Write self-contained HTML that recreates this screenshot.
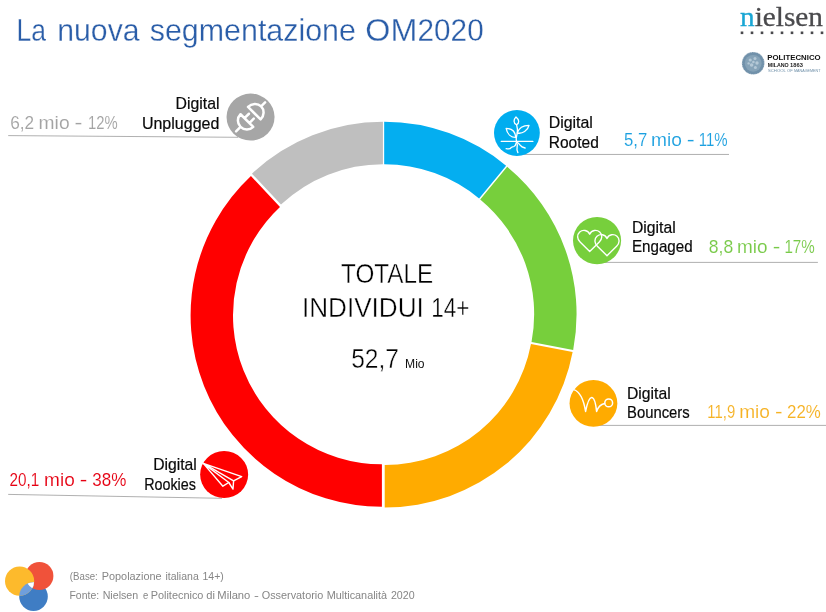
<!DOCTYPE html>
<html lang="it"><head><meta charset="utf-8"><title>La nuova segmentazione OM2020</title>
<style>
html,body{margin:0;padding:0;background:#fff;}
body{width:826px;height:612px;overflow:hidden;position:relative;font-family:"Liberation Sans",sans-serif;}
svg{position:absolute;left:0;top:0;display:block}
text{font-family:"Liberation Sans",sans-serif;white-space:pre}
.serif{font-family:"Liberation Serif",serif;}
.thin{stroke:#fff;stroke-width:.4px;paint-order:fill stroke}
.thin3{stroke:#fff;stroke-width:.3px;paint-order:fill stroke}
.thin2{stroke:#fff;stroke-width:.1px;paint-order:fill stroke}
.ln{stroke:#a2a2a2;stroke-width:.85;fill:none}
.ic{fill:none;stroke:#fff;stroke-linecap:round;stroke-linejoin:round}
</style></head><body>
<svg width="826" height="612" viewBox="0 0 826 612">
<rect width="826" height="612" fill="#fff"/>
<!-- title -->
<text y="40.8" font-size="32.2" fill="#2A5DA8" class="thin3"><tspan x="16.43" textLength="29.50" lengthAdjust="spacingAndGlyphs">La</tspan> <tspan x="57.31" textLength="82.19" lengthAdjust="spacingAndGlyphs">nuova</tspan> <tspan x="149.72" textLength="206.21" lengthAdjust="spacingAndGlyphs">segmentazione</tspan> <tspan x="365.29" textLength="51.99" lengthAdjust="spacingAndGlyphs">OM</tspan><tspan x="417.61" textLength="66.03" lengthAdjust="spacingAndGlyphs">2020</tspan></text>

<!-- nielsen logo -->
<text class="serif" x="740" y="26.4" font-size="28" fill="#4a4a4d" stroke="#4a4a4d" stroke-width=".3" textLength="83" lengthAdjust="spacingAndGlyphs"><tspan fill="#19a6d4" stroke="#19a6d4">n</tspan>ielsen</text>
<g fill="#4a4a4d">
<rect x="740.7" y="31.5" width="2.6" height="2.6"/><rect x="750.7" y="31.5" width="2.6" height="2.6"/><rect x="760.7" y="31.5" width="2.6" height="2.6"/><rect x="770.7" y="31.5" width="2.6" height="2.6"/><rect x="780.7" y="31.5" width="2.6" height="2.6"/><rect x="790.7" y="31.5" width="2.6" height="2.6"/><rect x="800.7" y="31.5" width="2.6" height="2.6"/><rect x="810.7" y="31.5" width="2.6" height="2.6"/><rect x="820.7" y="31.5" width="2.6" height="2.6"/>
</g>
<!-- politecnico logo -->
<circle cx="753.2" cy="63.3" r="11.3" fill="#7191aa"/>
<circle cx="753.2" cy="63.3" r="11.2" fill="none" stroke="#fff" stroke-width=".9" stroke-dasharray=".7 1.1" opacity=".75"/>
<circle cx="753.2" cy="63.3" r="8.4" fill="#86a3b8"/>
<g fill="#b4c8d6"><circle cx="750.2" cy="60" r="1.6"/><circle cx="755" cy="58.6" r="1.5"/><circle cx="757" cy="63" r="1.7"/><circle cx="751.6" cy="65" r="1.8"/><circle cx="755.4" cy="67.4" r="1.5"/><circle cx="748.6" cy="63.4" r="1.2"/><circle cx="753.4" cy="62" r="1.3"/></g>
<text y="59.8" font-size="7.8" font-weight="bold" fill="#111"><tspan x="767.31" textLength="53.30" lengthAdjust="spacingAndGlyphs">POLITECNICO</tspan></text>
<text y="66.5" font-size="5.0" font-weight="bold" fill="#222"><tspan x="767.77" textLength="20.98" lengthAdjust="spacingAndGlyphs">MILANO</tspan> <tspan x="790.04" textLength="12.80" lengthAdjust="spacingAndGlyphs">1863</tspan></text>
<text y="72.2" font-size="3.5" fill="#6e8fa8"><tspan x="767.97" textLength="17.74" lengthAdjust="spacingAndGlyphs">SCHOOL</tspan> <tspan x="787.01" textLength="5.73" lengthAdjust="spacingAndGlyphs">OF</tspan> <tspan x="794.01" textLength="26.45" lengthAdjust="spacingAndGlyphs">MANAGEMENT</tspan></text>

<!-- donut -->
<path d="M384.18 121.81A191.3 191.3 0 0 1 506.12 165.71L479.09 198.38A148.9 148.9 0 0 0 384.18 164.21Z" fill="#04AEF0"/>
<path d="M507.20 166.79A191.3 191.3 0 0 1 573.18 350.04L531.53 342.09A148.9 148.9 0 0 0 480.18 199.46Z" fill="#77CF3C"/>
<path d="M572.63 352.03A191.3 191.3 0 0 1 384.72 507.49L384.72 465.09A148.9 148.9 0 0 0 530.98 344.09Z" fill="#FFAB00"/>
<path d="M381.90 506.76A191.3 191.3 0 0 1 250.94 176.01L279.97 206.92A148.9 148.9 0 0 0 381.90 464.36Z" fill="#FF0000"/>
<path d="M251.95 173.67A191.3 191.3 0 0 1 382.91 121.83L382.91 164.23A148.9 148.9 0 0 0 280.98 204.58Z" fill="#BFBFBF"/>


<!-- centre text -->
<text y="282.6" font-size="27.2" fill="#000" class="thin"><tspan x="341.02" textLength="92.10" lengthAdjust="spacingAndGlyphs">TOTALE</tspan></text>
<text y="316.5" font-size="27.2" fill="#000" class="thin"><tspan x="301.96" textLength="121.90" lengthAdjust="spacingAndGlyphs">INDIVIDUI</tspan> <tspan x="431.29" textLength="38.14" lengthAdjust="spacingAndGlyphs">14+</tspan></text>
<text y="367.9" font-size="27.7" fill="#000" class="thin"><tspan x="351.13" textLength="47.76" lengthAdjust="spacingAndGlyphs">52,7</tspan></text>
<text y="367.8" font-size="11.9" fill="#111"><tspan x="405.05" textLength="19.54" lengthAdjust="spacingAndGlyphs">Mio</tspan></text>

<!-- Unplugged -->
<line class="ln" x1="8.2" y1="135.6" x2="238" y2="137.3"/>
<text y="128.9" font-size="18.5" fill="#a3a3a3" class="thin2"><tspan x="10.19" textLength="24.01" lengthAdjust="spacingAndGlyphs">6,2</tspan> <tspan x="38.60" textLength="30.98" lengthAdjust="spacingAndGlyphs">mio</tspan> <tspan x="74.46" textLength="7.90" lengthAdjust="spacingAndGlyphs">-</tspan> <tspan x="87.97" textLength="29.67" lengthAdjust="spacingAndGlyphs">12%</tspan></text>
<text y="109.1" font-size="16.2" fill="#0a0a0a" stroke="#0a0a0a" stroke-width=".2"><tspan x="175.56" textLength="43.98" lengthAdjust="spacingAndGlyphs">Digital</tspan></text>
<text y="128.5" font-size="16.2" fill="#0a0a0a" stroke="#0a0a0a" stroke-width=".2"><tspan x="141.90" textLength="77.50" lengthAdjust="spacingAndGlyphs">Unplugged</tspan></text>
<ellipse cx="250.55" cy="117.1" rx="24" ry="23.5" fill="#a6a6a6"/>
<g transform="translate(250.5 117) rotate(-45)" class="ic" stroke-width="2.5" stroke-linecap="butt">
<path d="M-20.4 0H-14.1M-5.1 -9A9 9 0 0 0 -5.1 9ZM-5.1 -3.4H1.2M-5.1 3.4H1.2"/>
<path d="M5.4 -8.9A9.6 8.9 0 0 1 5.4 8.9ZM15 0H20.6"/>
</g>

<!-- Rooted -->
<line class="ln" x1="520" y1="154.45" x2="729" y2="154.45"/>
<circle cx="516.9" cy="133" r="22.9" fill="#00ADEF"/>
<g transform="translate(516.9 133)" class="ic" stroke-width="1.3">
<path d="M-0.9 -16.1C-3.5 -13.4 -3.6 -10 -0.4 -8.2C2.7 -10 2.5 -13.4 -0.9 -16.1Z"/>
<path d="M-0.3 -8.2C0.6 -5 0.9 -2 0.4 0C-0.2 3 -1.4 5 -0.3 8.8"/>
<path d="M0.3 0C2 -5 7 -7.6 12.1 -7.6C11 -2.5 5.5 1.2 0.3 0Z"/>
<path d="M-1 4.4C-6 4.6 -9.8 1 -10.75 -4.6C-5.5 -4.6 -1.6 -1.4 -1 4.4Z"/>
<path d="M-15.7 8.4L16 8.4" stroke-width="1.2"/>
<path d="M-0.3 9C-1 11.5 -1.8 13 -3 13.5C-4.4 14 -5.2 13.6 -5.8 14.6C-6.4 15.8 -7.4 16.2 -10.75 15.6"/>
<path d="M-0.3 9C0.6 11.5 0.6 13 0.2 14.5S0 17.5 1 19.6"/>
<path d="M-0.3 8.8C1.2 10 2.4 11 3.2 12.2S5.4 14.4 8.2 15"/>
</g>
<text y="128.0" font-size="16.2" fill="#0a0a0a" stroke="#0a0a0a" stroke-width=".2"><tspan x="548.66" textLength="44.19" lengthAdjust="spacingAndGlyphs">Digital</tspan></text>
<text y="147.7" font-size="16.2" fill="#0a0a0a" stroke="#0a0a0a" stroke-width=".2"><tspan x="548.69" textLength="50.09" lengthAdjust="spacingAndGlyphs">Rooted</tspan></text>
<text y="145.9" font-size="18.5" fill="#1ba0e0" class="thin2"><tspan x="623.98" textLength="23.20" lengthAdjust="spacingAndGlyphs">5,7</tspan> <tspan x="651.00" textLength="30.87" lengthAdjust="spacingAndGlyphs">mio</tspan> <tspan x="686.86" textLength="7.90" lengthAdjust="spacingAndGlyphs">-</tspan> <tspan x="698.76" textLength="28.88" lengthAdjust="spacingAndGlyphs">11%</tspan></text>

<!-- Engaged -->
<line class="ln" x1="600" y1="262.4" x2="817.9" y2="262.4"/>
<ellipse cx="597.05" cy="240.55" rx="24.05" ry="23.65" fill="#77CF3C"/>
<g class="ic" stroke-width="1.4">
<path d="M0 -7.2C-2 -11.6 -7 -12 -10 -9.4C-13 -6.6 -12.6 -2.4 -9.6 0.6L0 10L9.6 0.6C12.6 -2.4 13 -6.6 10 -9.4C7 -12 2 -11.6 0 -7.2Z" transform="translate(589.7 241.4)"/>
<path d="M0 -7.2C-2 -11.6 -7 -12 -10 -9.4C-13 -6.6 -12.6 -2.4 -9.6 0.6L0 10L9.6 0.6C12.6 -2.4 13 -6.6 10 -9.4C7 -12 2 -11.6 0 -7.2Z" transform="translate(607 245.7)"/>
</g>
<text y="233.0" font-size="16.2" fill="#0a0a0a" stroke="#0a0a0a" stroke-width=".2"><tspan x="631.97" textLength="43.66" lengthAdjust="spacingAndGlyphs">Digital</tspan></text>
<text y="252.3" font-size="16.2" fill="#0a0a0a" stroke="#0a0a0a" stroke-width=".2"><tspan x="632.02" textLength="60.63" lengthAdjust="spacingAndGlyphs">Engaged</tspan></text>
<text y="252.6" font-size="18.5" fill="#78ca48" class="thin2"><tspan x="708.85" textLength="24.36" lengthAdjust="spacingAndGlyphs">8,8</tspan> <tspan x="737.01" textLength="30.55" lengthAdjust="spacingAndGlyphs">mio</tspan> <tspan x="772.69" textLength="7.52" lengthAdjust="spacingAndGlyphs">-</tspan> <tspan x="784.45" textLength="30.30" lengthAdjust="spacingAndGlyphs">17%</tspan></text>

<!-- Bouncers -->
<line class="ln" x1="596" y1="425.4" x2="826" y2="425.4"/>
<ellipse cx="593.45" cy="403.4" rx="23.9" ry="23.35" fill="#FFAB00"/>
<g class="ic" stroke-width="1.5" stroke="#fff1b8">
<path d="M573.7 389.6C580.4 391.6 583.8 400.6 585.6 411.4C587.2 403.4 589.4 397.6 591.6 397.5C594 397.4 595.8 404 596.6 411.4C598 407 601.2 404.2 604.6 403.4"/>
<circle cx="608.7" cy="402.9" r="3.9"/>
</g>
<text y="398.8" font-size="16.2" fill="#0a0a0a" stroke="#0a0a0a" stroke-width=".2"><tspan x="626.97" textLength="43.66" lengthAdjust="spacingAndGlyphs">Digital</tspan></text>
<text y="417.5" font-size="16.2" fill="#0a0a0a" stroke="#0a0a0a" stroke-width=".2"><tspan x="627.04" textLength="62.62" lengthAdjust="spacingAndGlyphs">Bouncers</tspan></text>
<text y="417.6" font-size="18.5" fill="#f6b223" class="thin2"><tspan x="707.37" textLength="27.83" lengthAdjust="spacingAndGlyphs">11,9</tspan> <tspan x="739.21" textLength="30.77" lengthAdjust="spacingAndGlyphs">mio</tspan> <tspan x="775.09" textLength="7.52" lengthAdjust="spacingAndGlyphs">-</tspan> <tspan x="787.01" textLength="33.79" lengthAdjust="spacingAndGlyphs">22%</tspan></text>

<!-- Rookies -->
<line class="ln" x1="8.2" y1="494.4" x2="222" y2="498.3"/>
<text y="485.6" font-size="18.5" fill="#e60012" class="thin2"><tspan x="9.48" textLength="29.74" lengthAdjust="spacingAndGlyphs">20,1</tspan> <tspan x="44.11" textLength="30.66" lengthAdjust="spacingAndGlyphs">mio</tspan> <tspan x="79.89" textLength="7.52" lengthAdjust="spacingAndGlyphs">-</tspan> <tspan x="92.37" textLength="34.04" lengthAdjust="spacingAndGlyphs">38%</tspan></text>
<text y="470.0" font-size="16.2" fill="#0a0a0a" stroke="#0a0a0a" stroke-width=".2"><tspan x="153.17" textLength="43.66" lengthAdjust="spacingAndGlyphs">Digital</tspan></text>
<text y="489.7" font-size="16.2" fill="#0a0a0a" stroke="#0a0a0a" stroke-width=".2"><tspan x="144.18" textLength="51.77" lengthAdjust="spacingAndGlyphs">Rookies</tspan></text>
<ellipse cx="224.15" cy="474.55" rx="24" ry="23.55" fill="#FF0000"/>
<g class="ic" stroke-width="1.4" stroke-linejoin="miter">
<path d="M203.3 463.4L241.7 476.6L233.6 480.9Z"/>
<path d="M203.3 463.4L222.9 486.2L228.8 482.5Z"/>
<path d="M228.8 482.5L233 489.1L233.6 480.9"/>
</g>

<!-- footer logo -->
<defs>
<clipPath id="cy"><circle cx="19.6" cy="581.1" r="14.6"/></clipPath>
<clipPath id="cr"><circle cx="39.4" cy="576" r="14"/></clipPath>
</defs>
<circle cx="33.5" cy="596.6" r="14.3" fill="#3f7dc4"/>
<circle cx="39.4" cy="576" r="14" fill="#f0523a"/>
<circle cx="19.6" cy="581.1" r="14.6" fill="#fdba2c"/>
<circle cx="33.5" cy="596.6" r="14.3" fill="#6f9fdc" clip-path="url(#cy)"/>
<g clip-path="url(#cr)"><circle cx="33.5" cy="596.6" r="14.3" fill="#fff" clip-path="url(#cy)"/></g>
<text y="579.5" font-size="11.5" fill="#868686"><tspan x="69.85" textLength="27.93" lengthAdjust="spacingAndGlyphs">(Base:</tspan> <tspan x="101.75" textLength="59.89" lengthAdjust="spacingAndGlyphs">Popolazione</tspan> <tspan x="165.44" textLength="33.29" lengthAdjust="spacingAndGlyphs">italiana</tspan> <tspan x="202.54" textLength="21.30" lengthAdjust="spacingAndGlyphs">14+)</tspan></text>
<text y="599.3" font-size="11.5" fill="#868686"><tspan x="69.48" textLength="29.66" lengthAdjust="spacingAndGlyphs">Fonte:</tspan> <tspan x="102.67" textLength="35.53" lengthAdjust="spacingAndGlyphs">Nielsen</tspan> <tspan x="142.90" textLength="5.28" lengthAdjust="spacingAndGlyphs">e</tspan> <tspan x="150.65" textLength="52.80" lengthAdjust="spacingAndGlyphs">Politecnico</tspan> <tspan x="206.35" textLength="8.68" lengthAdjust="spacingAndGlyphs">di</tspan> <tspan x="217.32" textLength="33.03" lengthAdjust="spacingAndGlyphs">Milano</tspan> <tspan x="254.14" textLength="4.89" lengthAdjust="spacingAndGlyphs">-</tspan> <tspan x="261.69" textLength="61.55" lengthAdjust="spacingAndGlyphs">Osservatorio</tspan> <tspan x="326.75" textLength="60.28" lengthAdjust="spacingAndGlyphs">Multicanalità</tspan> <tspan x="390.90" textLength="23.66" lengthAdjust="spacingAndGlyphs">2020</tspan></text>
</svg>
</body></html>
